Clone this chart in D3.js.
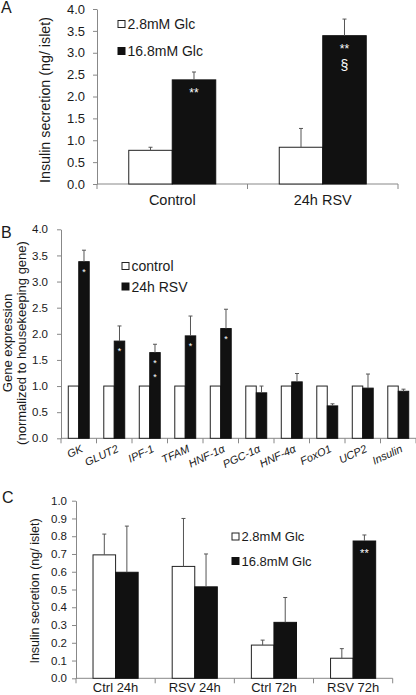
<!DOCTYPE html>
<html>
<head>
<meta charset="utf-8">
<script src="https://cdn.jsdelivr.net/npm/d3@7"></script>
<style>
  html, body { margin: 0; padding: 0; background: #fff; }
  svg { display: block; }
  text { font-family: "Liberation Sans", Arial, sans-serif; fill: #1a1a1a; }
</style>
</head>
<body>
<svg id="chart" width="416" height="695"></svg>
<script>
// ---------- DATA ----------
// Panel A
const catsA = ["Control", "24h RSV"];
const seriesA = ["2.8mM Glc", "16.8mM Glc"];
const lowA = [0.77, 0.84];
const lowErrA = [0.07, 0.43];
const highA = [2.38, 3.39];
const highErrA = [0.18, 0.38];
const sigHighA = [["**"], ["**", "§"]];
const ticksA = [0, 0.5, 1.0, 1.5, 2.0, 2.5, 3.0, 3.5, 4.0];

// Panel B
const genesB = ["GK", "GLUT2", "IPF-1", "TFAM", "HNF-1α", "PGC-1α", "HNF-4α", "FoxO1", "UCP2", "Insulin"];
const seriesB = ["control", "24h RSV"];
const controlB = [1, 1, 1, 1, 1, 1, 1, 1, 1, 1];
const rsvB = [3.38, 1.86, 1.64, 1.96, 2.10, 0.87, 1.08, 0.62, 0.96, 0.90];
const rsvErrB = [0.22, 0.29, 0.16, 0.38, 0.37, 0.13, 0.16, 0.04, 0.27, 0.04];
const sigB = [["*"], ["*"], ["*", "*"], ["*"], ["*"], [], [], [], [], []];
const ticksB = [0, 0.5, 1.0, 1.5, 2.0, 2.5, 3.0, 3.5, 4.0];

// Panel C
const catsC = ["Ctrl 24h", "RSV 24h", "Ctrl 72h", "RSV 72h"];
const seriesC = ["2.8mM Glc", "16.8mM Glc"];
const lowC = [0.695, 0.63, 0.187, 0.113];
const lowErrC = [0.117, 0.27, 0.028, 0.054];
const highC = [0.597, 0.515, 0.315, 0.773];
const highErrC = [0.26, 0.185, 0.14, 0.034];
const sigHighC = [[], [], [], ["**"]];
const ticksC = [0, 0.1, 0.2, 0.3, 0.4, 0.5, 0.6, 0.7, 0.8, 0.9, 1.0];

// ---------- DRAWING ----------
const svg = d3.select("#chart");
const AXIS = "#888";
const BAR_DARK = "#111";

function panel(cfg) {
  const g = svg.append("g");
  const x = d3.scaleBand().domain(cfg.cats).range([cfg.x0, cfg.x1]).paddingInner(0).paddingOuter(0);
  const y = d3.scaleLinear().domain([0, cfg.ymax]).range([cfg.yb, cfg.yt]);
  const bw = x.bandwidth();
  const inner = d3.scaleBand().domain([0, 1]).range([bw * (1 - cfg.groupFrac) / 2, bw * (1 + cfg.groupFrac) / 2]);

  // y axis
  const yAxis = d3.axisLeft(y).tickValues(cfg.ticks).tickFormat(d3.format(".1f"))
    .tickSizeInner(4).tickSizeOuter(0).tickPadding(cfg.tickPad);
  const ya = g.append("g").attr("transform", `translate(${cfg.x0},0)`).call(yAxis);
  ya.select(".domain").attr("stroke", AXIS);
  ya.selectAll(".tick line").attr("stroke", AXIS);
  ya.selectAll(".tick text").style("font-size", cfg.tickFont + "px")
    .style("font-family", '"Liberation Sans", Arial, sans-serif').attr("fill", "#1a1a1a");

  // x axis line + boundary ticks
  g.append("line").attr("x1", cfg.x0).attr("x2", cfg.x1).attr("y1", cfg.yb).attr("y2", cfg.yb)
    .attr("stroke", AXIS);
  const bounds = cfg.cats.map(c => x(c)).concat([cfg.x1]);
  g.selectAll(".xt").data(bounds).join("line")
    .attr("x1", d => d).attr("x2", d => d).attr("y1", cfg.yb).attr("y2", cfg.yb + 5)
    .attr("stroke", AXIS);

  // bars
  const rows = [];
  cfg.cats.forEach((c, i) => {
    cfg.series.forEach((vals, s) => {
      rows.push({ c, i, s, v: vals[i], e: cfg.errs[s] ? cfg.errs[s][i] : null,
        sig: cfg.sigs[s] ? cfg.sigs[s][i] : [] });
    });
  });
  const gb = g.append("g");
  gb.selectAll("rect").data(rows).join("rect")
    .attr("x", d => x(d.c) + inner(d.s))
    .attr("y", d => y(d.v))
    .attr("width", inner.bandwidth())
    .attr("height", d => y(0) - y(d.v))
    .attr("fill", d => d.s === 0 ? "#fff" : BAR_DARK)
    .attr("stroke", d => d.s === 0 ? "#222" : BAR_DARK)
    .attr("stroke-width", 1);

  // error bars (upward only)
  const errRows = rows.filter(d => d.e != null);
  gb.selectAll(".err").data(errRows).join("line")
    .attr("x1", d => x(d.c) + inner(d.s) + inner.bandwidth() / 2)
    .attr("x2", d => x(d.c) + inner(d.s) + inner.bandwidth() / 2)
    .attr("y1", d => y(d.v)).attr("y2", d => y(d.v + d.e))
    .attr("stroke", "#555").attr("stroke-width", 1);
  gb.selectAll(".cap").data(errRows).join("line")
    .attr("x1", d => x(d.c) + inner(d.s) + inner.bandwidth() / 2 - 2)
    .attr("x2", d => x(d.c) + inner(d.s) + inner.bandwidth() / 2 + 2)
    .attr("y1", d => y(d.v + d.e)).attr("y2", d => y(d.v + d.e))
    .attr("stroke", "#555").attr("stroke-width", 1);

  // significance marks
  rows.forEach(d => {
    (d.sig || []).forEach((t, k) => {
      g.append("text")
        .attr("x", x(d.c) + inner(d.s) + inner.bandwidth() / 2)
        .attr("y", y(d.v) + cfg.sigOff + k * cfg.sigStep)
        .attr("text-anchor", "middle")
        .style("font-size", (t === "§" ? cfg.sigFont + 2 : cfg.sigFont) + "px")
        .style("fill", "#fff")
        .text(t);
    });
  });

  // category labels
  if (cfg.rotate) {
    g.selectAll(".xl").data(cfg.cats).join("text")
      .attr("transform", d => `translate(${x(d) + bw / 2 + 5},${cfg.yb + 13}) rotate(-25)`)
      .attr("text-anchor", "end")
      .style("font-size", cfg.catFont + "px").style("font-style", "italic")
      .text(d => d);
  } else {
    g.selectAll(".xl").data(cfg.cats).join("text")
      .attr("x", d => x(d) + bw / 2).attr("y", cfg.yb + cfg.catOff)
      .attr("text-anchor", "middle")
      .style("font-size", cfg.catFont + "px")
      .text(d => d);
  }

  // y title(s)
  cfg.titles.forEach((t, k) => {
    g.append("text")
      .attr("transform", `translate(${cfg.titleX[k]},${cfg.titleY}) rotate(-90)`)
      .attr("text-anchor", "middle")
      .style("font-size", cfg.titleFont + "px")
      .text(t);
  });

  // legend
  cfg.legendNames.forEach((n, k) => {
    const ly = cfg.legY[k];
    g.append("rect").attr("x", cfg.legX).attr("y", ly - 3.5).attr("width", 7).attr("height", 7)
      .attr("fill", k === 0 ? "#fff" : BAR_DARK).attr("stroke", k === 0 ? "#222" : BAR_DARK);
    g.append("text").attr("x", cfg.legX + 9.5).attr("y", ly + cfg.legFont * 0.36)
      .style("font-size", cfg.legFont + "px").text(n);
  });

  // panel letter
  svg.append("text").attr("x", cfg.letterX).attr("y", cfg.letterY)
    .style("font-size", "16px").text(cfg.letter);
}

panel({
  letter: "A", letterX: 1, letterY: 13,
  cats: catsA, series: [lowA, highA], errs: [lowErrA, highErrA], sigs: [null, sigHighA],
  x0: 97, x1: 398, yt: 9, yb: 184, ymax: 4.0, ticks: ticksA, groupFrac: 0.578,
  tickFont: 13, tickPad: 8, catFont: 14.5, catOff: 21,
  titles: ["Insulin secretion  (ng/ islet)"], titleX: [50], titleY: 100, titleFont: 14.3,
  legendNames: seriesA, legX: 118, legY: [24, 51], legFont: 14,
  sigFont: 12, sigOff: 17, sigStep: 17
});

panel({
  letter: "B", letterX: 1, letterY: 238,
  cats: genesB, series: [controlB, rsvB], errs: [null, rsvErrB], sigs: [null, sigB],
  x0: 61, x1: 416, yt: 229.3, yb: 438.3, ymax: 4.0, ticks: ticksB, groupFrac: 0.59,
  tickFont: 11.5, tickPad: 9, catFont: 11, rotate: true,
  titles: ["Gene expression", "(normalized to housekeeping gene)"], titleX: [12, 26], titleY: 343, titleFont: 13,
  legendNames: seriesB, legX: 122, legY: [266, 286.5], legFont: 14,
  sigFont: 9, sigOff: 13, sigStep: 14.5
});

panel({
  letter: "C", letterX: 2, letterY: 503,
  cats: catsC, series: [lowC, highC], errs: [lowErrC, highErrC], sigs: [null, sigHighC],
  x0: 76, x1: 392.7, yt: 500.7, yb: 678.3, ymax: 1.0, ticks: ticksC, groupFrac: 0.57,
  tickFont: 11.5, tickPad: 5, catFont: 13, catOff: 13.5,
  titles: ["Insulin secretion (ng/ islet)"], titleX: [39], titleY: 591, titleFont: 12.5,
  legendNames: seriesC, legX: 232, legY: [536.5, 561], legFont: 13,
  sigFont: 11, sigOff: 16, sigStep: 15
});
</script>
</body>
</html>
